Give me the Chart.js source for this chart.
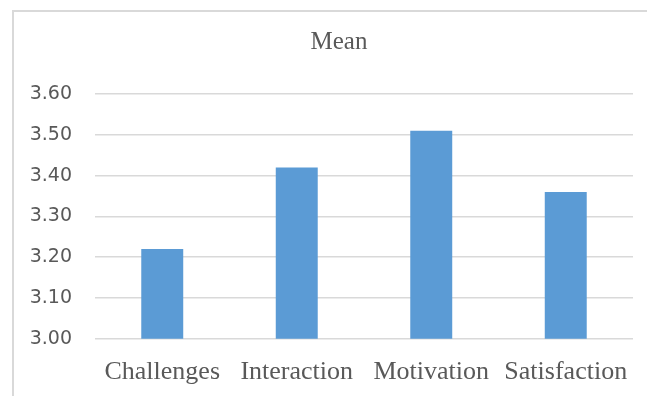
<!DOCTYPE html>
<html>
<head>
<meta charset="utf-8">
<script src="https://cdn.jsdelivr.net/npm/chart.js@4/dist/chart.umd.min.js"></script>
<style>
  html, body { margin: 0; padding: 0; background: #fff; }
  #wrap { position: relative; width: 647px; height: 396px; overflow: hidden; }
  #frame {
    position: absolute; left: 12px; top: 10px; width: 700px; height: 450px;
    border-left: 2px solid #d9d9d9; border-top: 2px solid #d9d9d9;
  }
  canvas { position: absolute; left: 0; top: 0; }
</style>
</head>
<body>
<div id="wrap">
  <div id="frame"></div>
  <!-- 원본 그림처럼 아래쪽이 잘려 보이도록 캔버스를 조금 크게 -->
  <canvas id="myChart" width="647" height="406"></canvas>
</div>
<script>
// 차트 데이터
const categories = ['Challenges', 'Interaction', 'Motivation', 'Satisfaction'];
const meanValues = [3.22, 3.42, 3.51, 3.36];
const yTicks = ['3.00', '3.10', '3.20', '3.30', '3.40', '3.50', '3.60'];
const chartTitle = 'Mean';

const textColor = '#595959';
const gridColor = '#d9d9d9';
const serif = '"Liberation Serif", "Times New Roman", serif';

// 제목: 차트 박스 가운데에 그림
const titlePlugin = {
    id: 'boxTitle',
    afterDraw(chart) {
        const ctx = chart.ctx;
        ctx.save();
        ctx.font = '25px ' + serif;
        ctx.fillStyle = textColor;
        ctx.textAlign = 'center';
        ctx.textBaseline = 'alphabetic';
        ctx.fillText(chartTitle, 339, 49);
        ctx.restore();
    }
};

function initializeChart(ctx) {
    return new Chart(ctx, {
        type: 'bar',
        data: {
            labels: categories,
            datasets: [{
                label: chartTitle,
                data: meanValues,
                backgroundColor: '#5b9bd5',
                borderWidth: 0,
                categoryPercentage: 1,
                barPercentage: 0.312
            }]
        },
        options: {
            responsive: false,
            animation: false,
            layout: {
                padding: { left: 0, right: 14, top: 94, bottom: 0 }
            },
            plugins: {
                legend: { display: false },
                tooltip: { enabled: false },
                title: { display: false }
            },
            scales: {
                x: {
                    grid: { display: false, drawTicks: false },
                    border: { display: false },
                    ticks: {
                        color: textColor,
                        padding: 18,
                        maxRotation: 0,
                        autoSkip: false,
                        font: { family: serif, size: 26 }
                    }
                },
                y: {
                    min: 3.0,
                    max: 3.6,
                    afterFit: scale => { scale.width = 95; },
                    grid: { color: gridColor, lineWidth: 1.5, drawTicks: false },
                    border: { display: false },
                    ticks: {
                        stepSize: 0.1,
                        padding: 23,
                        color: textColor,
                        font: { family: '"DejaVu Sans", sans-serif', size: 19 },
                        callback: (value, i) => yTicks[i] !== undefined ? yTicks[i] : Number(value).toFixed(2)
                    }
                }
            }
        },
        plugins: [titlePlugin]
    });
}

document.addEventListener('DOMContentLoaded', () => {
    const ctx = document.getElementById('myChart').getContext('2d');
    initializeChart(ctx);
});
</script>
</body>
</html>
